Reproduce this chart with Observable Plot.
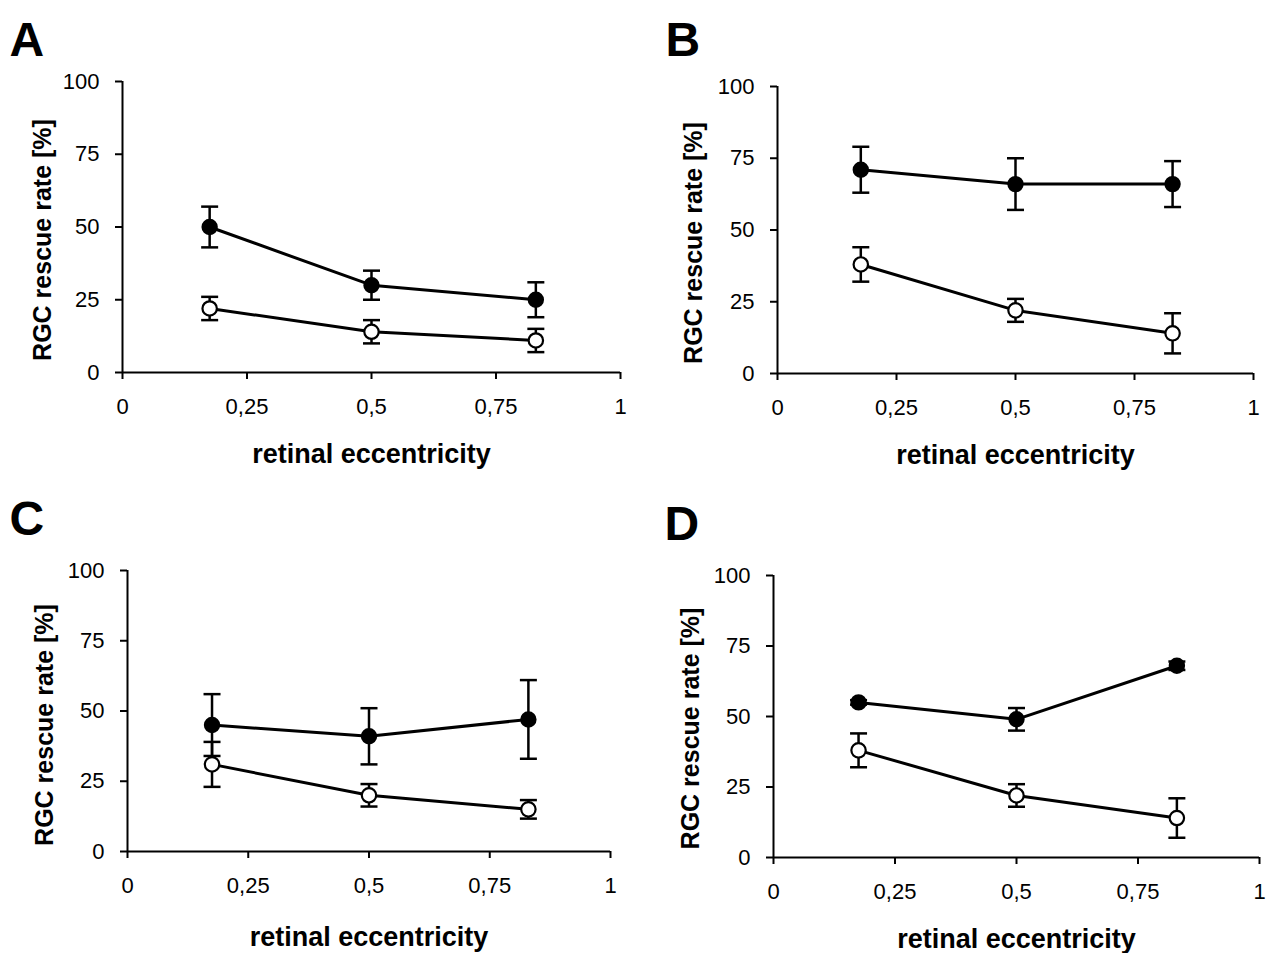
<!DOCTYPE html>
<html><head><meta charset="utf-8">
<script src="https://cdn.jsdelivr.net/npm/d3@7"></script>
<script src="https://cdn.jsdelivr.net/npm/@observablehq/plot@0.6"></script>
<style>
html,body{margin:0;padding:0;background:#fff;overflow:hidden;}
#root{position:relative;width:1271px;height:953px;overflow:hidden;background:#fff;}
.panel{position:absolute;line-height:0;}
</style></head><body><div id="root"></div>
<script>
// ---- data ----
const eccentricity = [0.175, 0.5, 0.83];
const xTicks = [0, 0.25, 0.5, 0.75, 1];
const xTickLabels = ["0", "0,25", "0,5", "0,75", "1"];
const yTicks = [0, 25, 50, 75, 100];
const yTickLabels = ["0", "25", "50", "75", "100"];
const xTitle = "retinal eccentricity";
const yTitle = "RGC rescue rate [%]";
const panelLetters = ["A", "B", "C", "D"];

const aFilled = [50, 30, 25];   const aFilledErr = [7, 5, 6];
const aOpen   = [22, 14, 11];   const aOpenErr   = [4, 4, 4];
const bFilled = [71, 66, 66];   const bFilledErr = [8, 9, 8];
const bOpen   = [38, 22, 14];   const bOpenErr   = [6, 4, 7];
const cFilled = [45, 41, 47];   const cFilledErr = [11, 10, 14];
const cOpen   = [31, 20, 15];   const cOpenErr   = [8, 4, 3.3];
const dFilled = [55, 49, 68];   const dFilledErr = [0.8, 4, 1.5];
const dOpen   = [38, 22, 14];   const dOpenErr   = [6, 4, 7];

// ---- layout (pixels) ----
const mL = 130, mT = 80, mR = 8, mB = 88;
const layouts = [
  {fx: 122, fy: 81,  w: 498, h: 291, lx: 9,   ly: 21,  yc: 42,  yd: 13, xd: 82},
  {fx: 777, fy: 86,  w: 476, h: 287, lx: 665, ly: 21,  yc: 693, yd: 13, xd: 82},
  {fx: 127, fy: 570, w: 483, h: 281, lx: 9,   ly: 500, yc: 44,  yd: 14, xd: 86},
  {fx: 773, fy: 575, w: 486, h: 282, lx: 664, ly: 505, yc: 690, yd: 12, xd: 82}
];
const series = [
  [aFilled, aFilledErr, aOpen, aOpenErr],
  [bFilled, bFilledErr, bOpen, bOpenErr],
  [cFilled, cFilledErr, cOpen, cOpenErr],
  [dFilled, dFilledErr, dOpen, dOpenErr]
];

const font = '"Liberation Sans", Arial, Helvetica, sans-serif';
const cap = {draw(ctx, size) { const r = Math.sqrt(size / Math.PI); ctx.moveTo(-r, 0); ctx.lineTo(r, 0); }};

function makePanel(k) {
  const L = layouts[k];
  const [filled, filledErr, open, openErr] = series[k];
  const rows = [];
  eccentricity.forEach((x, i) => {
    rows.push({x, y: filled[i], err: filledErr[i], g: "filled"});
    rows.push({x, y: open[i], err: openErr[i], g: "open"});
  });
  const filledRows = rows.filter(d => d.g === "filled");
  const openRows = rows.filter(d => d.g === "open");
  const plot = Plot.plot({
    width: L.w + mL + mR, height: L.h + mT + mB,
    marginLeft: mL, marginTop: mT, marginRight: mR, marginBottom: mB,
    style: {fontFamily: font, fontSize: "22px", color: "#000", background: "transparent", overflow: "visible"},
    x: {domain: [0, 1]},
    y: {domain: [0, 100]},
    marks: [
      Plot.ruleY([0], {stroke: "#000", strokeWidth: 2}),
      Plot.ruleX([0], {stroke: "#000", strokeWidth: 2}),
      Plot.axisX({ticks: xTicks, tickFormat: d => xTickLabels[xTicks.indexOf(d)], tickSize: 7, tickPadding: 19, strokeWidth: 2, fontSize: 22, label: null, fill: "#000"}),
      Plot.axisY({ticks: yTicks, tickFormat: d => yTickLabels[yTicks.indexOf(d)], tickSize: 7, tickPadding: 16, strokeWidth: 2, fontSize: 22, label: null, fill: "#000"}),
      Plot.line(rows, {x: "x", y: "y", z: "g", stroke: "#000", strokeWidth: 3}),
      Plot.ruleX(rows, {x: "x", y1: d => d.y - d.err, y2: d => d.y + d.err, stroke: "#000", strokeWidth: 2.5}),
      Plot.dot(rows, {x: "x", y: d => d.y - d.err, r: 8.5, symbol: cap, fill: "none", stroke: "#000", strokeWidth: 2.5}),
      Plot.dot(rows, {x: "x", y: d => d.y + d.err, r: 8.5, symbol: cap, fill: "none", stroke: "#000", strokeWidth: 2.5}),
      Plot.dot(filledRows, {x: "x", y: "y", r: 7.2, fill: "#000", stroke: "#000", strokeWidth: 2}),
      Plot.dot(openRows, {x: "x", y: "y", r: 7.2, fill: "#fff", stroke: "#000", strokeWidth: 2.2}),
      Plot.text([panelLetters[k]], {frameAnchor: "top-left", text: d => d, dx: L.lx - L.fx, dy: L.ly - L.fy, fontSize: 48, fontWeight: "bold", textAnchor: "start", lineAnchor: "top", fill: "#000"}),
      Plot.text([yTitle], {frameAnchor: "left", text: d => d, rotate: -90, dx: L.yc - L.fx, dy: L.yd, fontSize: 25, fontWeight: "bold", textAnchor: "middle", lineAnchor: "middle", fill: "#000"}),
      Plot.text([xTitle], {frameAnchor: "bottom", text: d => d, dy: L.xd, fontSize: 27, fontWeight: "bold", textAnchor: "middle", lineAnchor: "middle", fill: "#000"})
    ]
  });
  const div = document.createElement("div");
  div.className = "panel";
  div.style.left = (L.fx - mL) + "px";
  div.style.top = (L.fy - mT) + "px";
  div.appendChild(plot);
  document.getElementById("root").appendChild(div);
}
for (let k = 0; k < 4; k++) makePanel(k);
</script></body></html>
